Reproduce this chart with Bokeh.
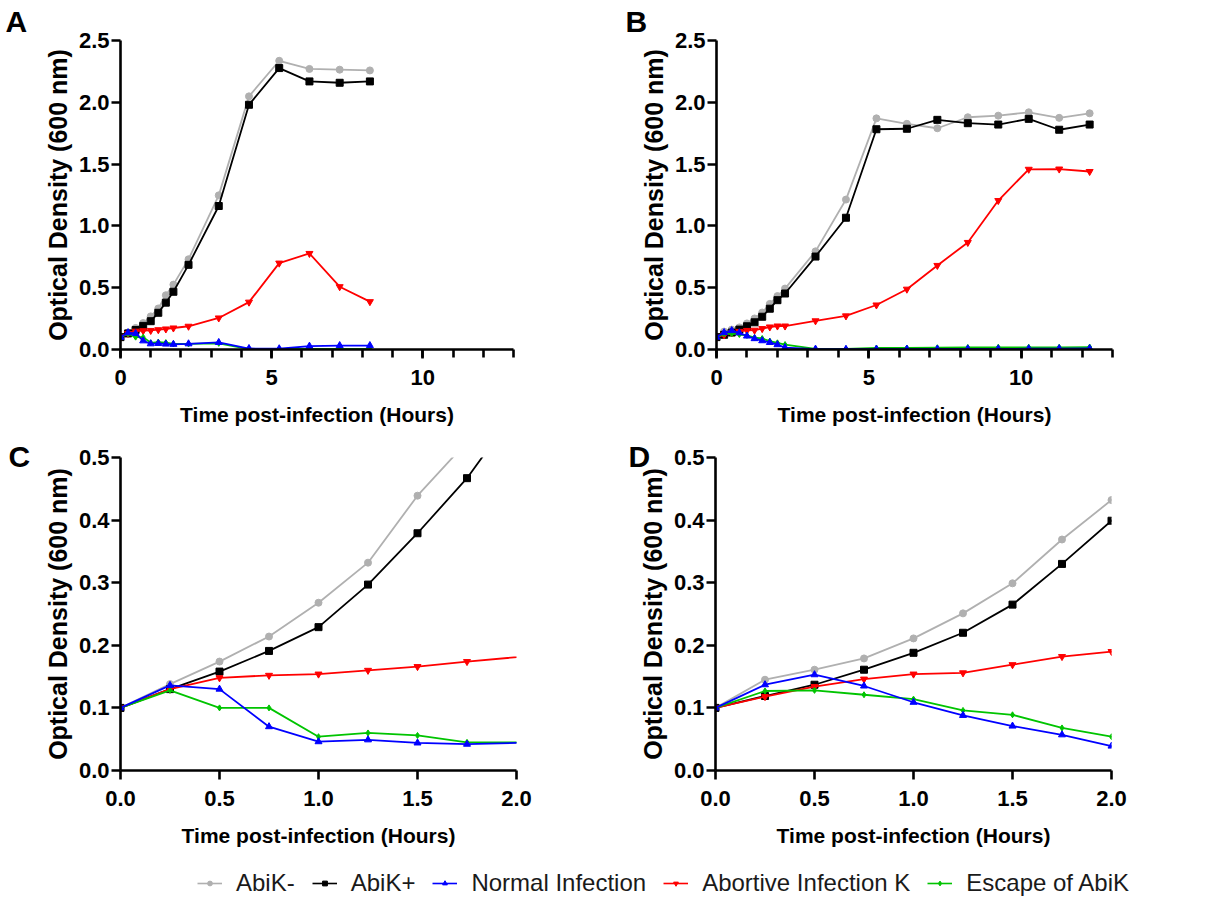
from bokeh.plotting import figure
from bokeh.layouts import column, row
from bokeh.models import (Range1d, FixedTicker, NumeralTickFormatter, Title,
                          Legend, LegendItem)
from bokeh.embed import file_html
from bokeh.resources import INLINE

# ---- growth curves, OD600 vs hours post-infection ----
# experiment 1 (panels A and C)
t_exp1 = [0, 0.25, 0.5, 0.75, 1.0, 1.25, 1.5, 1.75, 2.25, 3.25, 4.25, 5.25, 6.25, 7.25, 8.25]
exp1_abik_minus = [0.100, 0.138, 0.174, 0.214, 0.268, 0.332, 0.439, 0.525, 0.730, 1.247, 2.048, 2.336, 2.270, 2.264, 2.258]
exp1_abik_plus = [0.100, 0.130, 0.158, 0.191, 0.229, 0.297, 0.379, 0.467, 0.685, 1.161, 1.980, 2.277, 2.169, 2.158, 2.169]
exp1_normal = [0.100, 0.136, 0.130, 0.070, 0.046, 0.049, 0.044, 0.042, 0.046, 0.057, 0.008, 0.006, 0.027, 0.032, 0.032]
exp1_abortive = [0.100, 0.130, 0.148, 0.152, 0.154, 0.160, 0.166, 0.174, 0.188, 0.255, 0.383, 0.699, 0.777, 0.508, 0.387]
exp1_escape = [0.100, 0.128, 0.100, 0.100, 0.054, 0.060, 0.056, 0.045, 0.045, 0.050, 0.003, 0.003, 0.004, 0.004, 0.005]

# experiment 2 (panels B and D)
t_exp2 = [0, 0.25, 0.5, 0.75, 1.0, 1.25, 1.5, 1.75, 2.0, 2.25, 3.25, 4.25, 5.25, 6.25, 7.25, 8.25, 9.25, 10.25, 11.25, 12.25]
exp2_abik_minus = [0.100, 0.145, 0.161, 0.179, 0.211, 0.251, 0.299, 0.369, 0.432, 0.493, 0.794, 1.213, 1.870, 1.826, 1.790, 1.879, 1.892, 1.919, 1.874, 1.911]
exp2_abik_plus = [0.100, 0.119, 0.137, 0.161, 0.188, 0.220, 0.265, 0.330, 0.399, 0.453, 0.752, 1.066, 1.782, 1.786, 1.858, 1.831, 1.820, 1.866, 1.778, 1.820]
exp2_normal = [0.100, 0.137, 0.153, 0.135, 0.109, 0.088, 0.071, 0.057, 0.039, 0.015, 0.003, 0.002, 0.003, 0.003, 0.004, 0.005, 0.005, 0.006, 0.007, 0.008]
exp2_abortive = [0.100, 0.118, 0.134, 0.146, 0.154, 0.156, 0.169, 0.182, 0.190, 0.190, 0.232, 0.272, 0.360, 0.488, 0.680, 0.866, 1.205, 1.458, 1.460, 1.440]
exp2_escape = [0.100, 0.127, 0.128, 0.121, 0.114, 0.096, 0.089, 0.068, 0.054, 0.040, 0.005, 0.005, 0.012, 0.012, 0.014, 0.016, 0.018, 0.018, 0.018, 0.020]

series_names = ["AbiK-", "AbiK+", "Normal Infection", "Abortive Infection K", "Escape of AbiK"]
series_colors = ["#b0b0b0", "#000000", "#0000ff", "#ff0000", "#00c400"]
series_markers = ["circle", "square", "triangle", "inverted_triangle", "diamond"]
series_sizes = [7, 7, 7, 7, 6]
draw_order = [0, 1, 3, 4, 2]

x_title = "Time post-infection (Hours)"
y_title = "Optical Density (600 nm)"

FONT = "Liberation Sans"


def make_panel(letter, t, ys, x_end, y_end, x_major, x_minor, y_major, x_fmt,
               width, height, left, right, top, bottom, letter_offset, letter_standoff):
    p = figure(width=width, height=height, toolbar_location=None, output_backend="svg",
               x_range=Range1d(0, x_end), y_range=Range1d(0, y_end),
               min_border_left=left, min_border_right=right,
               min_border_top=top, min_border_bottom=bottom)
    p.outline_line_color = None
    p.grid.visible = False
    p.background_fill_color = "white"

    for i in draw_order:
        p.line(t, ys[i], color=series_colors[i], line_width=1.8)
        p.scatter(t, ys[i], marker=series_markers[i], size=series_sizes[i],
                  fill_color=series_colors[i], line_color=series_colors[i])

    p.xaxis.ticker = FixedTicker(ticks=x_major, minor_ticks=x_minor)
    p.yaxis.ticker = FixedTicker(ticks=y_major, minor_ticks=[])
    p.xaxis.formatter = NumeralTickFormatter(format=x_fmt)
    p.yaxis.formatter = NumeralTickFormatter(format="0.0")

    for ax in (p.xaxis[0], p.yaxis[0]):
        ax.axis_line_width = 2.6
        ax.axis_line_color = "black"
        ax.major_tick_line_width = 2.6
        ax.major_tick_line_color = "black"
        ax.major_tick_out = 9
        ax.major_tick_in = 0
        ax.minor_tick_line_width = 2.6
        ax.minor_tick_line_color = "black"
        ax.minor_tick_out = 8
        ax.minor_tick_in = 0
        ax.major_label_text_font = FONT
        ax.major_label_text_font_style = "bold"
        ax.major_label_text_font_size = "22px"
        ax.major_label_text_color = "black"
        ax.axis_label_text_font = FONT
        ax.axis_label_text_font_style = "bold"
        ax.axis_label_text_color = "black"

    p.xaxis.axis_label = x_title
    p.xaxis.axis_label_text_font_size = "21px"
    p.xaxis.major_label_standoff = 11
    p.xaxis.axis_label_standoff = 15
    p.yaxis.axis_label = y_title
    p.yaxis.axis_label_text_font_size = "25px"
    p.yaxis.major_label_standoff = 2
    p.yaxis.axis_label_standoff = 4

    # panel letter, set as a left-aligned title pulled out to the page margin
    title = Title(text=letter, align="left", offset=letter_offset,
                  text_font=FONT, text_font_style="bold", text_font_size="30px",
                  text_color="black")
    try:
        title.standoff = letter_standoff
    except ValueError:
        title.standoff = 0
    p.title = title
    return p


exp1 = [exp1_abik_minus, exp1_abik_plus, exp1_normal, exp1_abortive, exp1_escape]
exp2 = [exp2_abik_minus, exp2_abik_plus, exp2_normal, exp2_abortive, exp2_escape]

hours_minor = list(range(0, 14))
pa = make_panel("A", t_exp1, exp1, 13, 2.5, [0, 5, 10], hours_minor,
                [0, 0.5, 1.0, 1.5, 2.0, 2.5], "0",
                610, 437, 120, 97, 39, 88, -115, 5)
pb = make_panel("B", t_exp2, exp2, 13, 2.5, [0, 5, 10], hours_minor,
                [0, 0.5, 1.0, 1.5, 2.0, 2.5], "0",
                621, 437, 106, 119, 39, 85, -91, 5)
pc = make_panel("C", t_exp1, exp1, 2, 0.5, [0, 0.5, 1.0, 1.5, 2.0], [],
                [0, 0.1, 0.2, 0.3, 0.4, 0.5], "0.0",
                610, 418, 120, 94, 20, 85, -112, -30)
pd = make_panel("D", t_exp2, exp2, 2, 0.5, [0, 0.5, 1.0, 1.5, 2.0], [],
                [0, 0.1, 0.2, 0.3, 0.4, 0.5], "0.0",
                621, 418, 105, 120, 20, 85, -87, -30)

# shared legend strip along the bottom; each entry's renderers hold one
# point outside the visible range so only the legend swatch is drawn
leg = figure(width=1231, height=56, toolbar_location=None, output_backend="svg",
             x_range=Range1d(0, 1), y_range=Range1d(0, 1), min_border=0)
leg.axis.visible = False
leg.grid.visible = False
leg.outline_line_color = None
items = []
for i, name in enumerate(series_names):
    lr = leg.line([-2, -1], [-2, -1], color=series_colors[i], line_width=1.6)
    sr = leg.scatter([-2], [-2], marker=series_markers[i], size=5,
                     fill_color=series_colors[i], line_color=series_colors[i])
    items.append(LegendItem(label=name, renderers=[lr, sr]))
legend = Legend(items=items, orientation="horizontal", location=(197, 14),
                glyph_width=25, glyph_height=12, label_standoff=14, spacing=17,
                label_text_font=FONT, label_text_font_size="24px",
                label_text_color="#1a1a1a",
                border_line_alpha=0, background_fill_alpha=0, padding=0, margin=0)
leg.add_layout(legend, "center")

layout = column(row(pa, pb), row(pc, pd), leg)

with open("out.html", "w") as f:
    f.write(file_html(layout, INLINE))
